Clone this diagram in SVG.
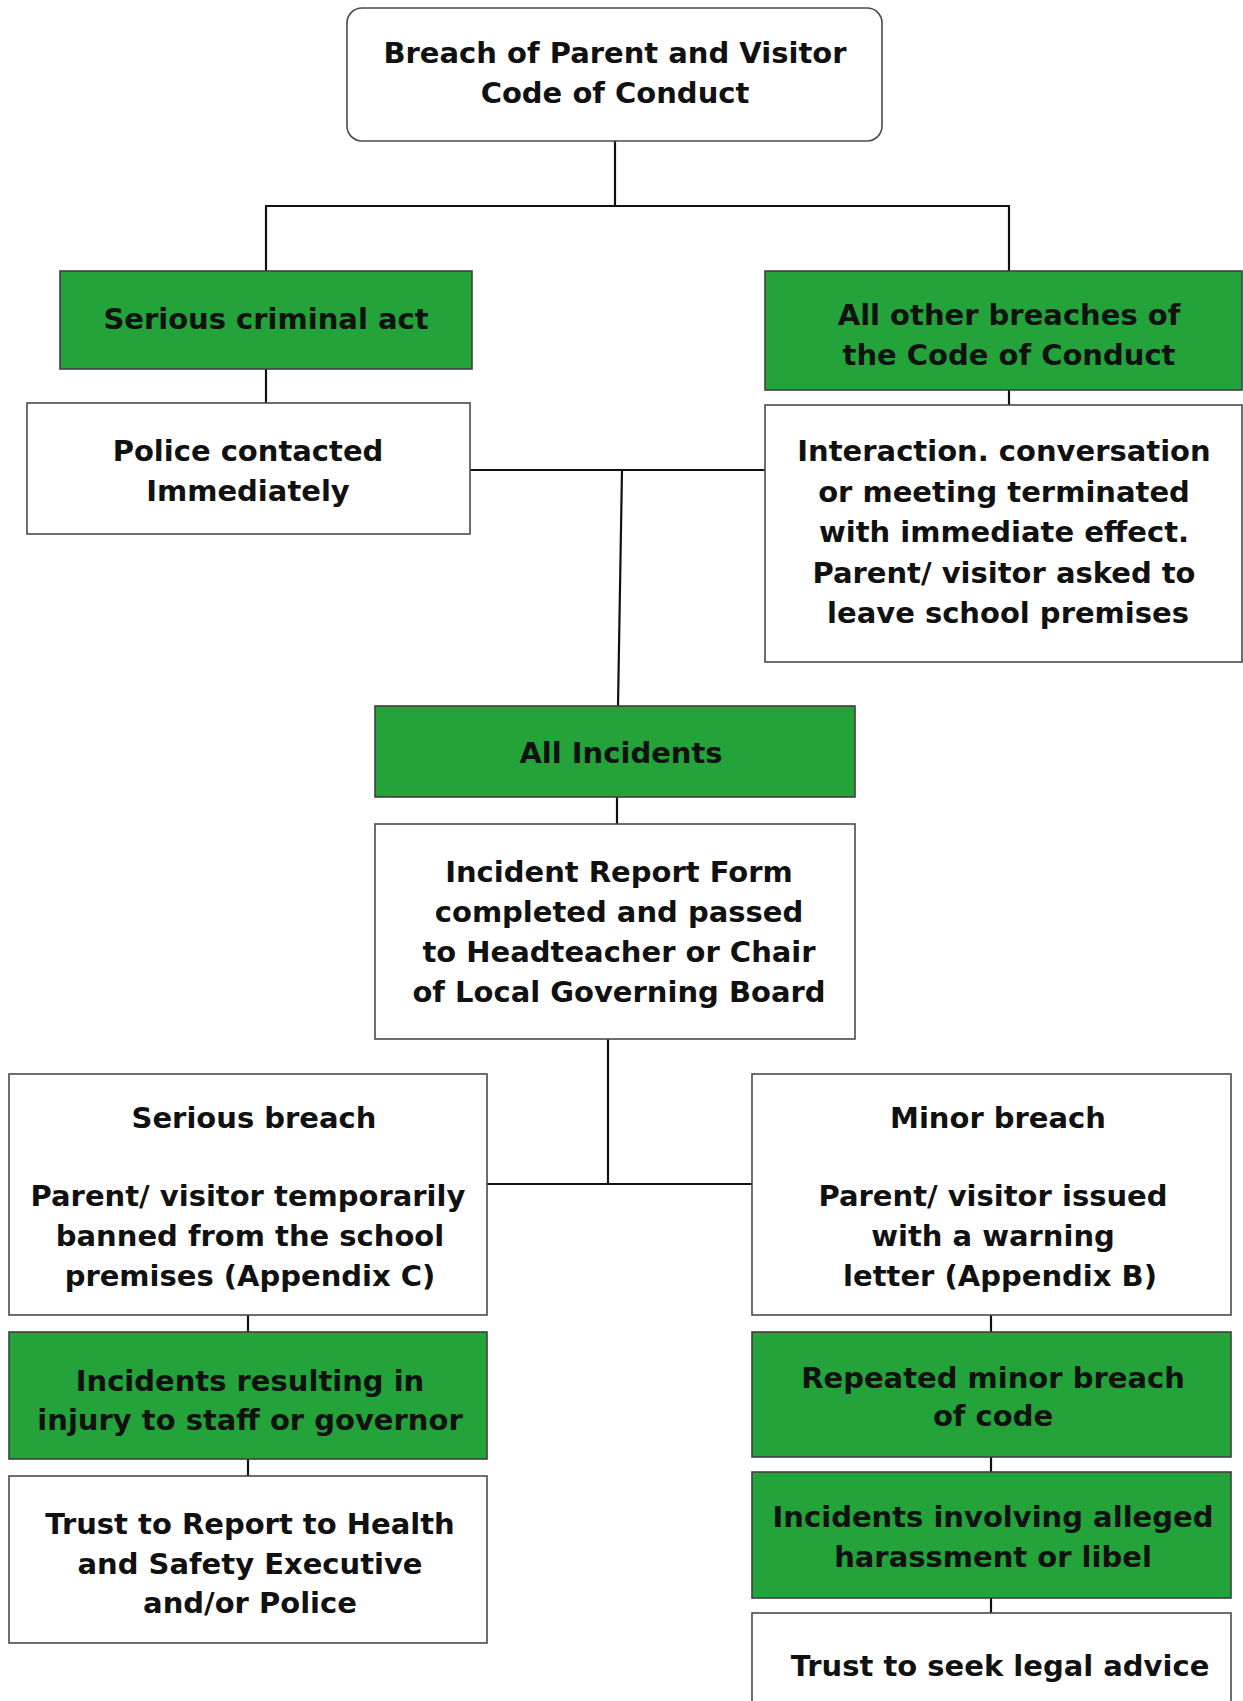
<svg xmlns="http://www.w3.org/2000/svg" width="1243" height="1701" viewBox="0 0 1243 1701">
<style>
.box{fill:#ffffff;stroke:#4a4a4a;stroke-width:1.6}
.green{fill:#23a33a;stroke:#3f3f3f;stroke-width:1.6}
.conn{stroke:#111111;stroke-width:2.2;fill:none}
text{font-family:"DejaVu Sans","Open Sans",sans-serif;font-weight:bold;font-size:29px;fill:#111111;text-anchor:middle}
</style>
<rect width="1243" height="1701" fill="#ffffff"/>
<g id="connectors">
<line class="conn" x1="615" y1="141" x2="615" y2="206"/>
<line class="conn" x1="265" y1="206" x2="1010" y2="206"/>
<line class="conn" x1="266" y1="206" x2="266" y2="271"/>
<line class="conn" x1="1009" y1="206" x2="1009" y2="271"/>
<line class="conn" x1="266" y1="369" x2="266" y2="403"/>
<line class="conn" x1="1009" y1="390" x2="1009" y2="405"/>
<line class="conn" x1="470" y1="470" x2="765" y2="470"/>
<line class="conn" x1="622" y1="470" x2="618" y2="706"/>
<line class="conn" x1="617" y1="797" x2="617" y2="824"/>
<line class="conn" x1="608" y1="1039" x2="608" y2="1184"/>
<line class="conn" x1="487" y1="1184" x2="752" y2="1184"/>
<line class="conn" x1="248" y1="1315" x2="248" y2="1332"/>
<line class="conn" x1="248" y1="1459" x2="248" y2="1476"/>
<line class="conn" x1="991" y1="1315" x2="991" y2="1332"/>
<line class="conn" x1="991" y1="1457" x2="991" y2="1472"/>
<line class="conn" x1="991" y1="1598" x2="991" y2="1613"/>
</g>
<g id="n-breach">
<rect class="box" x="347" y="8" width="535" height="133" rx="15"/>
<text x="615" y="63">Breach of Parent and Visitor</text>
<text x="615" y="103">Code of Conduct</text>
</g>
<g id="n-criminal">
<rect class="green" x="60" y="271" width="412" height="98"/>
<text x="266" y="329">Serious criminal act</text>
</g>
<g id="n-police">
<rect class="box" x="27" y="403" width="443" height="131"/>
<text x="248" y="461">Police contacted</text>
<text x="248" y="501">Immediately</text>
</g>
<g id="n-other">
<rect class="green" x="765" y="271" width="477" height="119"/>
<text x="1009" y="325">All other breaches of</text>
<text x="1009" y="365">the Code of Conduct</text>
</g>
<g id="n-interaction">
<rect class="box" x="765" y="405" width="477" height="257"/>
<text x="1004" y="461">Interaction. conversation</text>
<text x="1004" y="502">or meeting terminated</text>
<text x="1004" y="542">with immediate effect.</text>
<text x="1004" y="583">Parent/ visitor asked to</text>
<text x="1008" y="623">leave school premises</text>
</g>
<g id="n-all">
<rect class="green" x="375" y="706" width="480" height="91"/>
<text x="621" y="763">All Incidents</text>
</g>
<g id="n-report">
<rect class="box" x="375" y="824" width="480" height="215"/>
<text x="619" y="882">Incident Report Form</text>
<text x="619" y="922">completed and passed</text>
<text x="619" y="962">to Headteacher or Chair</text>
<text x="619" y="1002">of Local Governing Board</text>
</g>
<g id="n-serious">
<rect class="box" x="9" y="1074" width="478" height="241"/>
<text x="254" y="1128">Serious breach</text>
<text x="248" y="1206">Parent/ visitor temporarily</text>
<text x="250" y="1246">banned from the school</text>
<text x="250" y="1286">premises (Appendix C)</text>
</g>
<g id="n-minor">
<rect class="box" x="752" y="1074" width="479" height="241"/>
<text x="998" y="1128">Minor breach</text>
<text x="993" y="1206">Parent/ visitor issued</text>
<text x="993" y="1246">with a warning</text>
<text x="1000" y="1286">letter (Appendix B)</text>
</g>
<g id="n-injury">
<rect class="green" x="9" y="1332" width="478" height="127"/>
<text x="250" y="1391">Incidents resulting in</text>
<text x="250" y="1430">injury to staff or governor</text>
</g>
<g id="n-hse">
<rect class="box" x="9" y="1476" width="478" height="167"/>
<text x="250" y="1534">Trust to Report to Health</text>
<text x="250" y="1574">and Safety Executive</text>
<text x="250" y="1613">and/or Police</text>
</g>
<g id="n-repeated">
<rect class="green" x="752" y="1332" width="479" height="125"/>
<text x="993" y="1388">Repeated minor breach</text>
<text x="993" y="1426">of code</text>
</g>
<g id="n-harass">
<rect class="green" x="752" y="1472" width="479" height="126"/>
<text x="993" y="1527">Incidents involving alleged</text>
<text x="993" y="1567">harassment or libel</text>
</g>
<g id="n-legal">
<rect class="box" x="752" y="1613" width="479" height="100"/>
<text x="1000" y="1676">Trust to seek legal advice</text>
</g>
</svg>
